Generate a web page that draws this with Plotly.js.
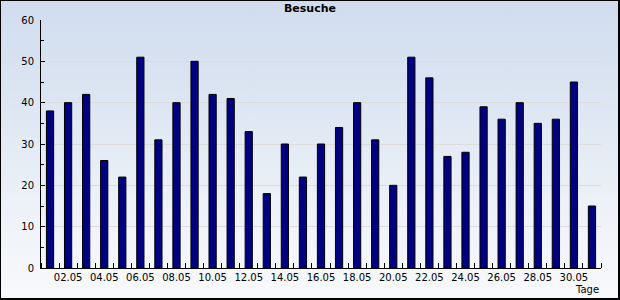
<!DOCTYPE html>
<html>
<head>
<meta charset="utf-8">
<script src="https://cdn.plot.ly/plotly-3.0.1.min.js"></script>
<style>
  html, body { margin: 0; padding: 0; }
  #wrap { position: relative; width: 620px; height: 300px; overflow: hidden;
          background: linear-gradient(to bottom, #d0dcee 0%, #dde6f2 35%, #eef2f8 70%, #f8f9fc 100%); }
  #plot { position: absolute; left: 0; top: 0; width: 620px; height: 300px; }
  #frame { position: absolute; left: 0; top: 0; width: 620px; height: 300px; box-sizing: border-box;
           border-top: 1px solid #000; border-left: 1px solid #000;
           border-right: 2px solid #000; border-bottom: 2px solid #000; pointer-events: none; }
</style>
</head>
<body>
<div id="wrap"><div id="plot"></div><div id="frame"></div></div>
<script>
// Days of May (01.05 .. 31.05)
const days = [1,2,3,4,5,6,7,8,9,10,11,12,13,14,15,16,17,18,19,20,21,22,23,24,25,26,27,28,29,30,31];
// Visits per day ("Besuche")
const visits = [38,40,42,26,22,51,31,40,50,42,41,33,18,30,22,30,34,40,31,20,51,46,27,28,39,36,40,35,36,45,15];
// Labelled days and their tick labels
const labelDays = [2,4,6,8,10,12,14,16,18,20,22,24,26,28,30];
const labelText = ["02.05","04.05","06.05","08.05","10.05","12.05","14.05","16.05","18.05","20.05","22.05","24.05","26.05","28.05","30.05"];
const yTicks = [0,10,20,30,40,50,60];

const trace = {
  type: 'bar',
  x: days,
  y: visits,
  width: 0.4,
  marker: { color: '#000080', line: { color: '#000000', width: 1 } },
  hoverinfo: 'skip'
};

const font = { family: 'DejaVu Sans, Verdana, sans-serif', size: 10, color: '#000' };

const layout = {
  width: 620, height: 300,
  margin: { l: 41, r: 19, t: 20, b: 32, pad: 0 },
  paper_bgcolor: 'rgba(0,0,0,0)',
  plot_bgcolor: 'rgba(0,0,0,0)',
  showlegend: false,
  font: font,
  title: {
    text: 'Besuche',
    font: { family: 'DejaVu Sans, Verdana, sans-serif', size: 11, color: '#000', weight: 'bold' },
    x: 0.5, xref: 'container', xanchor: 'center',
    y: 0.972, yref: 'container', yanchor: 'middle'
  },
  xaxis: {
    range: [0.5, 31.5],
    tickmode: 'array', tickvals: labelDays, ticktext: labelText,
    ticks: '', showgrid: false, zeroline: false,
    showline: true, linecolor: '#000', linewidth: 1,
    tickfont: font,
    minor: { tickmode: 'linear', tick0: 0.5, dtick: 1, ticks: 'inside', ticklen: 5, tickcolor: '#000', tickwidth: 1, showgrid: false },
    fixedrange: true
  },
  yaxis: {
    range: [0, 60],
    tickmode: 'array', tickvals: yTicks,
    ticks: 'inside', ticklen: 4, tickcolor: '#000', tickwidth: 1,
    showgrid: true, gridcolor: '#dcdcdc', gridwidth: 1,
    zeroline: false,
    showline: true, linecolor: '#000', linewidth: 1,
    tickfont: font,
    ticklabelstandoff: 4,
    minor: { tickmode: 'linear', tick0: 5, dtick: 10, ticks: 'inside', ticklen: 3, tickcolor: '#000', tickwidth: 1, showgrid: false },
    fixedrange: true
  },
  annotations: [{
    text: 'Tage', xref: 'paper', yref: 'paper',
    x: 1, xanchor: 'right', y: -0.085, yanchor: 'middle',
    showarrow: false, font: font
  }]
};

Plotly.newPlot('plot', [trace], layout, { staticPlot: true, displayModeBar: false });
</script>
</body>
</html>
